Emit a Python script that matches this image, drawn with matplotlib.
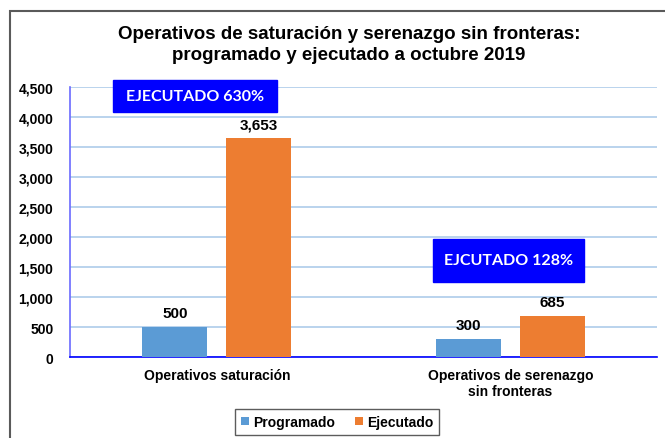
import matplotlib.pyplot as plt
import matplotlib.patches as patches
import numpy as np

plt.rcParams['font.family'] = ['Liberation Sans', 'DejaVu Sans']

# datos
categorias = ['Operativos saturación', 'Operativos de serenazgo\nsin fronteras']
programado = [500, 300]
ejecutado = [3653, 685]
series = ['Programado', 'Ejecutado']
notas = ['EJECUTADO 630%', 'EJCUTADO 128%']
yticks = [0, 500, 1000, 1500, 2000, 2500, 3000, 3500, 4000, 4500]

c_prog = '#5b9bd5'
c_ejec = '#ed7d31'

fig = plt.figure(figsize=(6.65, 4.39), dpi=100)
ax = fig.add_axes([0.1053, 0.1845, 0.8827, 0.615])

# marco exterior (recortado a la derecha y abajo)
fig.patches.append(patches.Rectangle((10/665, -0.05), 1.2, 0.05 + 1 - 12/439,
                                     transform=fig.transFigure, fill=False,
                                     edgecolor='#5a5a5a', lw=1.5))

x = np.arange(len(categorias))
w = 0.221
off = 0.143
b1 = ax.bar(x - off, programado, w, color=c_prog, label=series[0], zorder=3)
b2 = ax.bar(x + off, ejecutado, w, color=c_ejec, label=series[1], zorder=3)

for bars, vals in [(b1, programado), (b2, ejecutado)]:
    for b, v in zip(bars, vals):
        ax.text(b.get_x() + b.get_width()/2, v + 110, f'{v:,}', ha='center', va='bottom',
                fontsize=11, fontweight='bold')

ax.set_xlim(-0.5, 1.5)
ax.set_ylim(0, 4500)
ax.set_yticks(yticks)
ax.set_yticklabels([f'{v:,}' for v in yticks], fontsize=10, fontweight='bold')
ax.set_xticks(x)
ax.set_xticklabels(categorias, fontsize=10, fontweight='bold')
ax.tick_params(axis='y', length=0, pad=12)
ax.tick_params(axis='x', length=0, pad=8)
ax.grid(axis='y', color='#b4d0ec', lw=1.3, zorder=0)
for s in ['top', 'right']:
    ax.spines[s].set_visible(False)
ax.spines['left'].set_color('#6a6aff')
ax.spines['bottom'].set_color('#0000ff')
ax.spines['left'].set_linewidth(1.2)
ax.spines['bottom'].set_linewidth(1.2)

# cajas de porcentaje
cajas = [(0.0733, 0.9074, 0.2794, 0.1185), (0.6184, 0.2778, 0.2572, 0.1593)]
for (x0, y0, bw, bh), t in zip(cajas, notas):
    ax.add_patch(patches.Rectangle((x0, y0), bw, bh, transform=ax.transAxes,
                                   color='#0000ff', zorder=5, clip_on=False))
    ax.text(x0 + bw/2, y0 + bh/2, t, transform=ax.transAxes, ha='center', va='center',
            color='white', fontsize=11.5, fontweight='bold', family=['Lato', 'DejaVu Sans'],
            zorder=6)

fig.text(0.525, 0.897, 'Operativos de saturación y serenazgo sin fronteras:\nprogramado y ejecutado a octubre 2019',
         ha='center', va='center', fontsize=13.5, fontweight='bold', linespacing=1.35)

leg = fig.legend(handles=[b1, b2], labels=series, loc='center', bbox_to_anchor=(0.507, 0.0365),
                 ncol=2, frameon=True, fancybox=False, edgecolor='#333333',
                 prop={'weight': 'bold', 'size': 10}, handlelength=0.6, handleheight=0.6,
                 handletextpad=0.3, columnspacing=1.4, borderpad=0.4)
leg.get_frame().set_linewidth(1.0)

fig.savefig('out.png', dpi=100)
